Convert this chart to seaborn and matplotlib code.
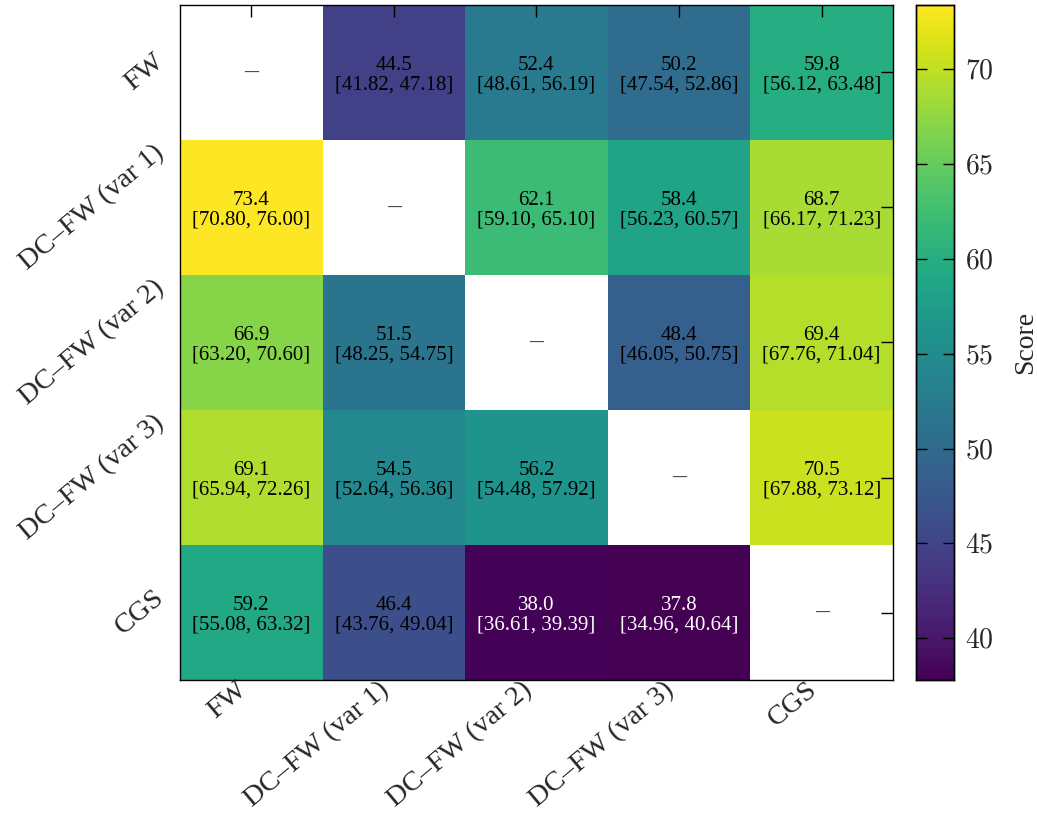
import numpy as np
import pandas as pd
import matplotlib
matplotlib.use("Agg")
import matplotlib.pyplot as plt
import seaborn as sns

methods = ["FW", "DC–FW (var 1)", "DC–FW (var 2)", "DC–FW (var 3)", "CGS"]

row_fw = [np.nan, 44.5, 52.4, 50.2, 59.8]
row_v1 = [73.4, np.nan, 62.1, 58.4, 68.7]
row_v2 = [66.9, 51.5, np.nan, 48.4, 69.4]
row_v3 = [69.1, 54.5, 56.2, np.nan, 70.5]
row_cgs = [59.2, 46.4, 38.0, 37.8, np.nan]

lo_fw = [np.nan, 41.82, 48.61, 47.54, 56.12]
hi_fw = [np.nan, 47.18, 56.19, 52.86, 63.48]
lo_v1 = [70.80, np.nan, 59.10, 56.23, 66.17]
hi_v1 = [76.00, np.nan, 65.10, 60.57, 71.23]
lo_v2 = [63.20, 48.25, np.nan, 46.05, 67.76]
hi_v2 = [70.60, 54.75, np.nan, 50.75, 71.04]
lo_v3 = [65.94, 52.64, 54.48, np.nan, 67.88]
hi_v3 = [72.26, 56.36, 57.92, np.nan, 73.12]
lo_cgs = [55.08, 43.76, 36.61, 34.96, np.nan]
hi_cgs = [63.32, 49.04, 39.39, 40.64, np.nan]

cbar_ticks = [40, 45, 50, 55, 60, 65, 70]

values = np.array([row_fw, row_v1, row_v2, row_v3, row_cgs])
lows = np.array([lo_fw, lo_v1, lo_v2, lo_v3, lo_cgs])
highs = np.array([hi_fw, hi_v1, hi_v2, hi_v3, hi_cgs])
df = pd.DataFrame(values, index=methods, columns=methods)

sns.set_theme(style="white")
plt.rcParams["font.family"] = ["Liberation Serif", "DejaVu Serif"]
plt.rcParams["mathtext.fontset"] = "cm"

fig = plt.figure(figsize=(10.37, 8.14), dpi=100)
ax = fig.add_axes([0.1736, 0.1646, 0.6875, 0.8293])
cax = fig.add_axes([0.8833, 0.1646, 0.0366, 0.8293])

mask = np.isnan(values)
sns.heatmap(df, mask=mask, cmap="viridis", ax=ax, cbar_ax=cax,
            vmin=np.nanmin(values), vmax=np.nanmax(values),
            cbar_kws={"ticks": cbar_ticks})
ax.set_axisbelow(False)
cax.set_axisbelow(False)

n = len(methods)
for i in range(n):
    for j in range(n):
        if mask[i, j]:
            ax.text(j + 0.5, i + 0.5, "–", ha="center", va="center",
                    fontsize=20, color="#444444")
        else:
            v = values[i, j]
            col = "white" if v < 42 else "black"
            ax.text(j + 0.5, i + 0.52,
                    f"{v:.1f}\n[{lows[i, j]:.2f}, {highs[i, j]:.2f}]",
                    ha="center", va="center", fontsize=15, color=col,
                    linespacing=1.0)

ax.set_xlabel("")
ax.set_ylabel("")
ax.set_xticklabels(methods, rotation=40, ha="right", fontsize=20.5)
ax.set_yticklabels(methods, rotation=40, ha="right", va="center",
                   fontsize=20.5)
ax.tick_params(direction="in", top=True, right=True, length=8.5, width=1,
               color="black")
ax.tick_params(axis="x", pad=-2)
ax.tick_params(axis="y", pad=8)
for s in ax.spines.values():
    s.set_visible(True)
    s.set_color("black")
    s.set_linewidth(1)

cax.tick_params(direction="in", left=True, right=True, length=8, width=1,
                color="black", labelsize=20, pad=8)
cax.set_yticklabels([f"${t}$" for t in cbar_ticks])
for s in cax.spines.values():
    s.set_visible(True)
    s.set_color("black")
    s.set_linewidth(1)
cax.set_ylabel("Score", fontsize=20, labelpad=14)

fig.savefig("out.png", dpi=100)
